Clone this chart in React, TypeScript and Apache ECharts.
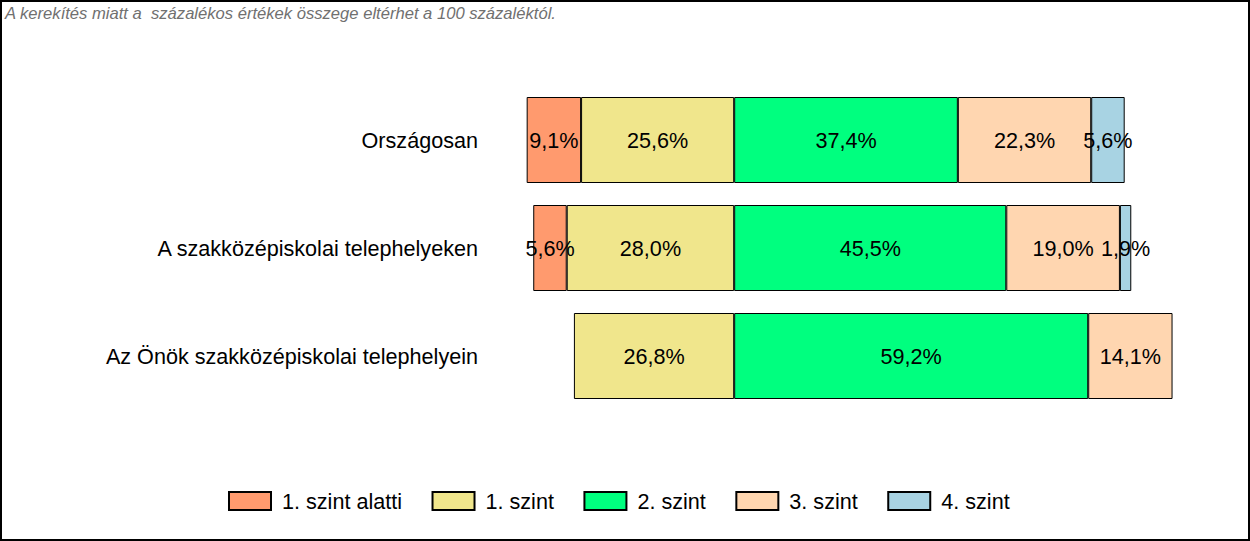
import React, { useEffect, useRef } from "react";
import * as echarts from "echarts";

const categories = [
  "Országosan",
  "A szakközépiskolai telephelyeken",
  "Az Önök szakközépiskolai telephelyein",
];
const belowLevel1 = [9.1, 5.6, null];
const level1 = [25.6, 28.0, 26.8];
const level2 = [37.4, 45.5, 59.2];
const level3 = [22.3, 19.0, 14.1];
const level4 = [5.6, 1.9, null];
const legendNames = ["1. szint alatti", "1. szint", "2. szint", "3. szint", "4. szint"];
const note = "A kerekítés miatt a  százalékos értékek összege eltérhet a 100 százaléktól.";

const FONT = "Liberation Sans, Arial, sans-serif";
const FS = 21.6;

export default function App() {
  const ref = useRef<HTMLDivElement>(null);
  useEffect(() => {
    document.body.style.margin = "0";
    if (!ref.current) return;
    const chart = echarts.init(ref.current, undefined, { renderer: "svg" });
    const fmt = (p: any) =>
      p.value == null ? "" : Math.abs(p.value).toFixed(1).replace(".", ",") + "%";
    const mk = (name: string, data: (number | null)[], color: string, neg: boolean) => ({
      name,
      type: "bar",
      stack: "total",
      barWidth: 86,
      data: data.map((v) => (v == null ? null : neg ? -v : v)),
      itemStyle: { color, borderColor: "#000", borderWidth: 1 },
      label: {
        show: true,
        position: "inside",
        color: "#000",
        fontSize: FS,
        fontFamily: FONT,
        formatter: fmt,
      },
    });
    chart.setOption({
      animation: false,
      backgroundColor: "#fff",
      textStyle: { fontFamily: FONT },
      graphic: [
        {
          type: "text",
          left: 5,
          top: 5,
          style: {
            text: note,
            fontSize: 16.6,
            fontStyle: "italic",
            fontFamily: FONT,
            fill: "#707070",
          },
        },
      ],
      legend: {
        data: legendNames,
        left: 223,
        top: 485,
        icon: "rect",
        itemWidth: 42,
        itemHeight: 18,
        itemGap: 29.5,
        textStyle: {
          fontSize: FS,
          color: "#000",
          fontFamily: FONT,
          padding: [0, 0, 0, 6],
        },
      },
      grid: { left: 486, right: 35, top: 86, bottom: 131, containLabel: false },
      xAxis: {
        type: "value",
        min: -41.5,
        max: 80.4,
        show: false,
        splitLine: { show: false },
      },
      yAxis: {
        type: "category",
        inverse: true,
        data: categories,
        axisLine: { show: false },
        axisTick: { show: false },
        axisLabel: { color: "#000", fontSize: FS, fontFamily: FONT, margin: 8 },
      },
      series: [
        mk("1. szint", level1, "#F0E68C", true),
        mk("1. szint alatti", belowLevel1, "#FF9A6E", true),
        mk("2. szint", level2, "#00FF7F", false),
        mk("3. szint", level3, "#FFD6B0", false),
        mk("4. szint", level4, "#A8D3E3", false),
      ],
    });
    return () => chart.dispose();
  }, []);
  return (
    <div style={{ width: 1250, height: 541, position: "relative" }}>
      <div ref={ref} style={{ position: "absolute", left: 0, top: 0, width: 1250, height: 541 }} />
      <div
        style={{
          position: "absolute",
          left: 0,
          top: 0,
          width: 1250,
          height: 541,
          border: "2px solid #000",
          boxSizing: "border-box",
          pointerEvents: "none",
        }}
      />
    </div>
  );
}
